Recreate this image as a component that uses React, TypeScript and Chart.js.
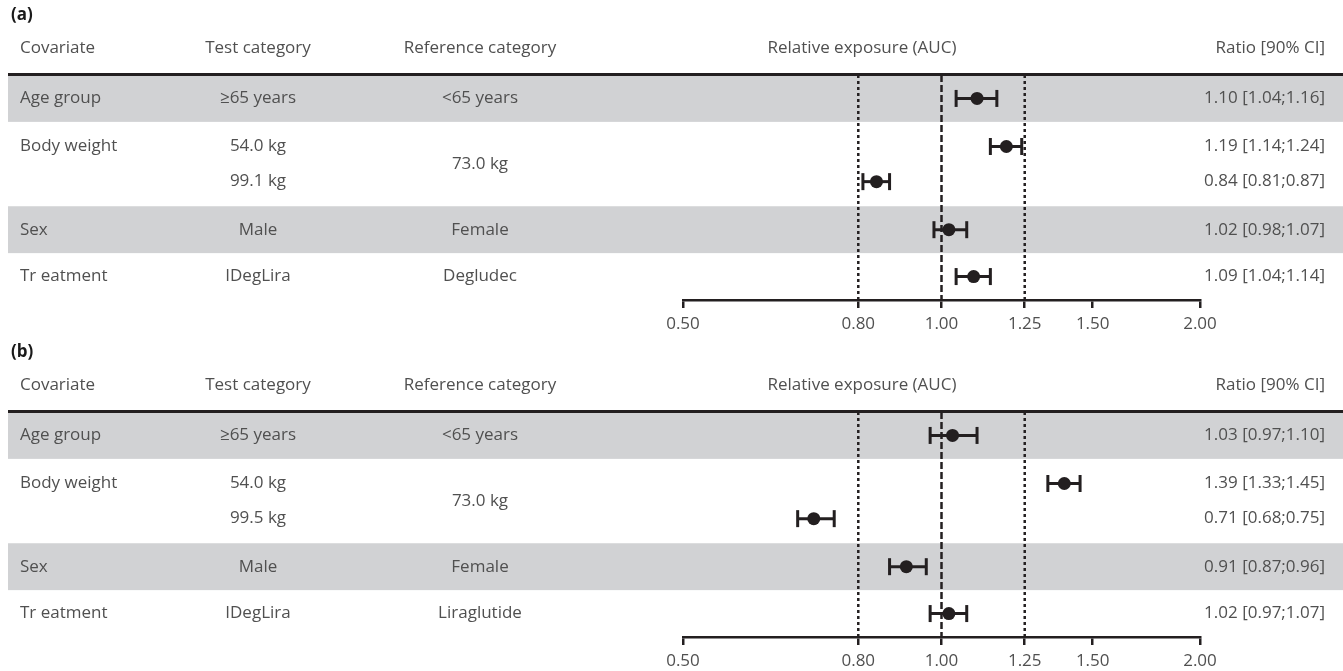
import React, { useEffect, useRef } from 'react';
import { Chart, registerables } from 'chart.js';

Chart.register(...registerables);

// ---------- data ----------
const headers = ['Covariate', 'Test category', 'Reference category', 'Relative exposure (AUC)', 'Ratio [90% CI]'];
const covariateLabels = ['Age group', 'Body weight', 'Sex', 'Tr eatment'];
const rowGroup = [0, 1, 1, 2, 3];

const testCategoriesA = ['≥65 years', '54.0 kg', '99.1 kg', 'Male', 'IDegLira'];
const referenceCategoriesA = ['<65 years', '73.0 kg', 'Female', 'Degludec'];
const ratioA = [1.10, 1.19, 0.84, 1.02, 1.09];
const lowerA = [1.04, 1.14, 0.81, 0.98, 1.04];
const upperA = [1.16, 1.24, 0.87, 1.07, 1.14];

const testCategoriesB = ['≥65 years', '54.0 kg', '99.5 kg', 'Male', 'IDegLira'];
const referenceCategoriesB = ['<65 years', '73.0 kg', 'Female', 'Liraglutide'];
const ratioB = [1.03, 1.39, 0.71, 0.91, 1.02];
const lowerB = [0.97, 1.33, 0.68, 0.87, 0.97];
const upperB = [1.10, 1.45, 0.75, 0.96, 1.07];

const xTicks = [0.5, 0.8, 1.0, 1.25, 1.5, 2.0];
const referenceLines = [0.8, 1.0, 1.25];

// ---------- layout ----------
const W = 1343;
const PANEL_H = 334;
const AXIS_Y = 300;
const TOP = 75;
const INK = '#231f20';
const TEXT = '#505050';
const BAND = '#d1d2d4';
const FONT = '"Open Sans", "DejaVu Sans", sans-serif';
const FS = 17;

function buildBands() {
  const bands: { start: number; end: number; center: number; rows: number[] }[] = [];
  let pos = 0;
  covariateLabels.forEach((_, g) => {
    const idx = rowGroup.map((rg, i) => (rg === g ? i : -1)).filter((i) => i >= 0);
    const h = idx.length > 1 ? 1.8 : 1;
    const center = pos + h / 2;
    const rows = idx.map((_, k) => center + (k - (idx.length - 1) / 2) * 0.75);
    bands.push({ start: pos, end: pos + h, center, rows });
    pos += h;
  });
  return { bands, total: pos };
}

type PanelProps = {
  label: string;
  tests: string[];
  refs: string[];
  ratio: number[];
  lower: number[];
  upper: number[];
  top: number;
};

function Panel({ label, tests, refs, ratio, lower, upper, top }: PanelProps) {
  const ref = useRef<HTMLCanvasElement>(null);

  useEffect(() => {
    const { bands, total } = buildBands();
    const rowY: number[] = [];
    bands.forEach((b) => b.rows.forEach((r) => rowY.push(r)));

    const ciDatasets = rowY.map((yv, i) => ({
      data: [
        { x: lower[i], y: yv },
        { x: upper[i], y: yv },
      ],
      showLine: true,
      borderColor: INK,
      borderWidth: 3,
      pointStyle: 'line',
      rotation: 90,
      pointRadius: 8.5,
      pointBorderWidth: 3,
      pointBorderColor: INK,
      order: 2,
    }));
    const pointDataset = {
      data: ratio.map((r, i) => ({ x: r, y: rowY[i] })),
      pointRadius: 6.5,
      pointBackgroundColor: INK,
      pointBorderWidth: 0,
      showLine: false,
      order: 1,
    };

    const forestPlugin = {
      id: 'forest',
      beforeDraw(chart: any) {
        const { ctx, scales } = chart;
        const y = scales.y;
        ctx.save();
        ctx.fillStyle = BAND;
        bands.forEach((b, i) => {
          if (i % 2 === 0) {
            const y0 = y.getPixelForValue(b.start);
            const y1 = y.getPixelForValue(b.end);
            ctx.fillRect(8, y0, W - 8, y1 - y0);
          }
        });
        ctx.restore();
      },
      beforeDatasetsDraw(chart: any) {
        const { ctx, chartArea, scales } = chart;
        const x = scales.x;
        ctx.save();
        ctx.strokeStyle = INK;
        ctx.lineWidth = 2.5;
        referenceLines.forEach((v) => {
          const px = x.getPixelForValue(v);
          ctx.setLineDash(v === 1 ? [7, 3] : [3, 3]);
          ctx.beginPath();
          ctx.moveTo(px, chartArea.top);
          ctx.lineTo(px, chartArea.bottom);
          ctx.stroke();
        });
        ctx.restore();
      },
      afterDraw(chart: any) {
        const { ctx, chartArea, scales } = chart;
        const y = scales.y;
        ctx.save();
        // header rule
        ctx.fillStyle = INK;
        ctx.fillRect(8, chartArea.top - 2, W - 8, 3);

        // panel label
        ctx.fillStyle = '#1a1a1a';
        ctx.font = `bold ${FS}px ${FONT}`;
        ctx.textBaseline = 'middle';
        ctx.textAlign = 'left';
        ctx.fillText(label, 11, chartArea.top - 60);

        // headers
        ctx.font = `${FS}px ${FONT}`;
        ctx.fillStyle = TEXT;
        const hy = chartArea.top - 27;
        ctx.textAlign = 'left';
        ctx.fillText(headers[0], 20, hy);
        ctx.textAlign = 'center';
        ctx.fillText(headers[1], 258, hy);
        ctx.fillText(headers[2], 480, hy);
        ctx.fillText(headers[3], 862, hy);
        ctx.textAlign = 'right';
        ctx.fillText(headers[4], 1325, hy);

        // rows
        bands.forEach((b, g) => {
          ctx.textAlign = 'left';
          ctx.fillText(covariateLabels[g], 20, y.getPixelForValue(b.rows[0]));
          ctx.textAlign = 'center';
          ctx.fillText(refs[g], 480, y.getPixelForValue(b.center));
        });
        rowY.forEach((yv, i) => {
          const py = y.getPixelForValue(yv);
          ctx.textAlign = 'center';
          ctx.fillText(tests[i], 258, py);
          ctx.textAlign = 'right';
          ctx.fillText(
            `${ratio[i].toFixed(2)} [${lower[i].toFixed(2)};${upper[i].toFixed(2)}]`,
            1325,
            py
          );
        });
        ctx.restore();
      },
    };

    const chart = new Chart(ref.current as HTMLCanvasElement, {
      type: 'scatter',
      data: { datasets: [pointDataset, ...ciDatasets] as any },
      options: {
        responsive: false,
        animation: false,
        events: [],
        layout: { padding: { left: 683, right: W - 1200, top: TOP, bottom: 0 } },
        plugins: { legend: { display: false }, tooltip: { enabled: false } },
        scales: {
          x: {
            type: 'logarithmic',
            min: 0.5,
            max: 2,
            afterBuildTicks: (s: any) => {
              s.ticks = xTicks.map((v) => ({ value: v }));
            },
            afterFit: (s: any) => {
              s.height = PANEL_H - AXIS_Y;
            },
            ticks: {
              callback: (v: any) => Number(v).toFixed(2),
              autoSkip: false,
              maxRotation: 0,
              padding: 6,
              color: TEXT,
              font: { family: FONT, size: FS },
            },
            grid: {
              drawOnChartArea: false,
              drawTicks: true,
              tickLength: 8,
              lineWidth: 2.5,
              color: INK,
            },
            border: { display: true, width: 2.5, color: INK },
          },
          y: { type: 'linear', display: false, min: 0, max: total, reverse: true },
        },
      } as any,
      plugins: [forestPlugin],
    });
    return () => chart.destroy();
  }, []);

  return (
    <canvas
      ref={ref}
      width={W}
      height={PANEL_H}
      style={{ position: 'absolute', left: 0, top, width: W, height: PANEL_H, display: 'block' }}
    />
  );
}

export default function App() {
  return (
    <div style={{ position: 'absolute', left: 0, top: 0, width: W, height: 671, background: '#fff', overflow: 'hidden' }}>
      <Panel
        label="(a)"
        tests={testCategoriesA}
        refs={referenceCategoriesA}
        ratio={ratioA}
        lower={lowerA}
        upper={upperA}
        top={0}
      />
      <Panel
        label="(b)"
        tests={testCategoriesB}
        refs={referenceCategoriesB}
        ratio={ratioB}
        lower={lowerB}
        upper={upperB}
        top={337}
      />
    </div>
  );
}
